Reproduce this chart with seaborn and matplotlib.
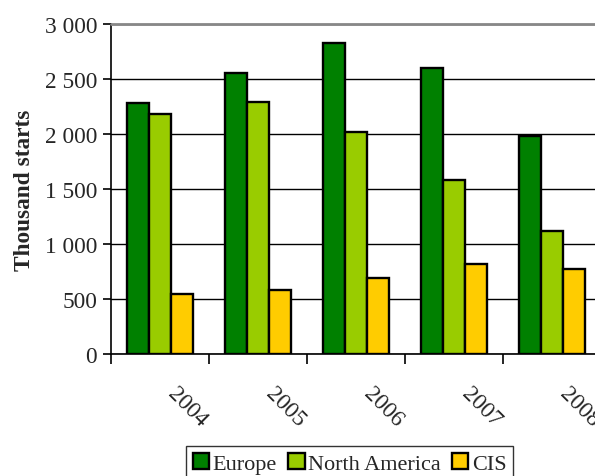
import numpy as np
import pandas as pd
import matplotlib
matplotlib.use("Agg")
import matplotlib.pyplot as plt
import matplotlib.transforms as mtransforms
from matplotlib.ticker import FuncFormatter, FixedLocator
import seaborn as sns

years = ["2004", "2005", "2006", "2007", "2008"]
regions = ["Europe", "North America", "CIS"]
europe = [2280, 2555, 2825, 2600, 1985]
north_america = [2185, 2290, 2020, 1580, 1115]
cis = [545, 585, 690, 815, 775]
palette = ["#008000", "#99CC00", "#FFCC00"]

df = pd.DataFrame({
    "year": years * 3,
    "region": [r for r in regions for _ in years],
    "value": europe + north_america + cis,
})

sns.set_style("white")
plt.rcParams["font.family"] = ["Liberation Serif", "DejaVu Serif"]

fig = plt.figure(figsize=(5.95, 4.77), dpi=100)
ax = fig.add_axes([111 / 595, 1 - 355 / 477, 490 / 595, 330 / 477])

sns.barplot(data=df, x="year", y="value", hue="region", order=years,
            hue_order=regions, palette=palette, width=0.67, gap=0,
            edgecolor="black", linewidth=1.7, saturation=1, ax=ax,
            legend=True)

ax.set_xlim(-0.5, len(years) - 0.5)
ax.set_ylim(0, 3000)
ax.set_yticks(np.arange(0, 3001, 500))
ax.yaxis.set_major_formatter(FuncFormatter(lambda v, p: f"{int(v):,}".replace(",", " ")))
ax.grid(axis="y", color="black", linewidth=1.0)
ax.set_axisbelow(True)

for side in ["top", "right"]:
    ax.spines[side].set_visible(False)
ax.spines["left"].set_color("black")
ax.spines["bottom"].set_color("black")
ax.spines["left"].set_linewidth(1.2)
ax.spines["bottom"].set_linewidth(1.2)
ax.axhline(3000, color="#888888", linewidth=2.0, clip_on=False, zorder=3)

ax.tick_params(axis="y", which="major", direction="out", length=6, width=1.2,
               color="black", labelsize=16.8, pad=4, left=True)
ax.xaxis.set_minor_locator(FixedLocator(np.arange(-0.5, len(years), 1.0)))
ax.tick_params(axis="x", which="minor", direction="out", length=7, width=1.2,
               color="black", bottom=True)
ax.tick_params(axis="x", which="major", length=0, labelsize=16.8, pad=26)

ax.set_xlabel("")
ax.set_ylabel("Thousand starts", fontsize=16.8, fontweight="bold", labelpad=7)

offset = mtransforms.ScaledTranslation(11 / 100, 0, fig.dpi_scale_trans)
for lab in ax.get_xticklabels():
    lab.set_rotation(-45)
    lab.set_rotation_mode("anchor")
    lab.set_ha("left")
    lab.set_va("center")
    lab.set_transform(lab.get_transform() + offset)

handles, labels = ax.get_legend_handles_labels()
ax.legend_.remove()
leg = fig.legend(handles, labels, loc="upper center",
                 bbox_to_anchor=(349.5 / 595, 1 - 447 / 477), ncol=3,
                 frameon=True, fancybox=False, edgecolor="black",
                 fontsize=16, handlelength=0.75, handleheight=0.75,
                 handletextpad=0.15, columnspacing=0.5, borderpad=0.3,
                 borderaxespad=0)
leg.get_frame().set_linewidth(1.0)

fig.savefig("out.png", dpi=100)
